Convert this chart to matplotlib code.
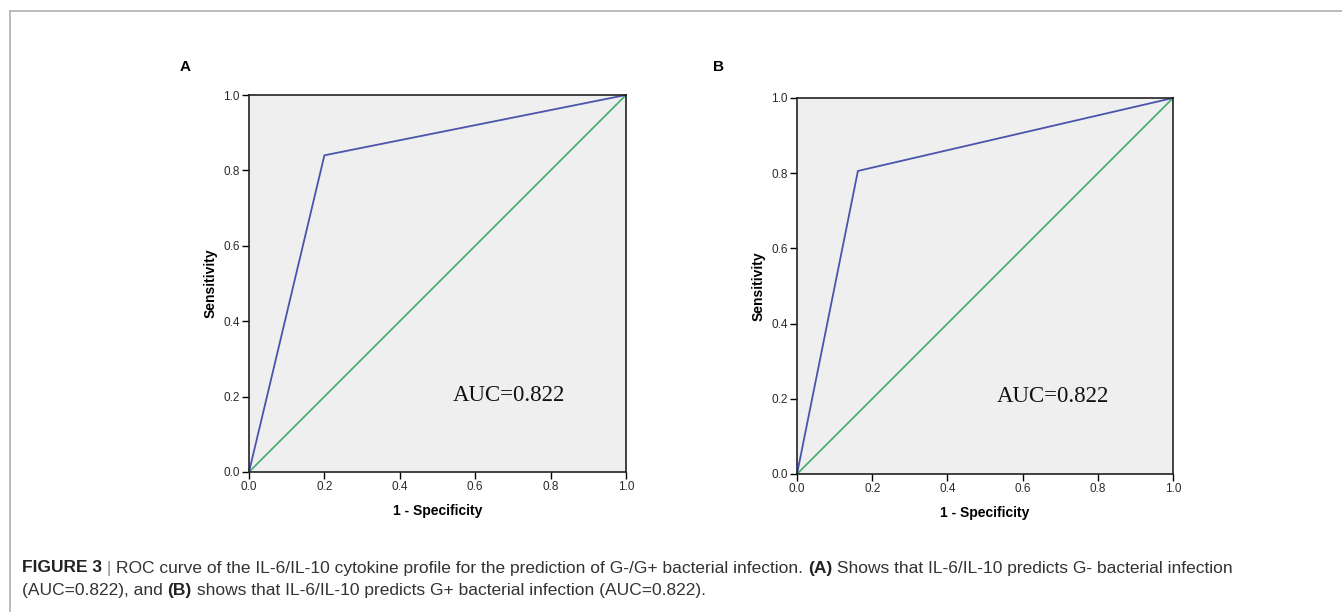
import matplotlib.pyplot as plt
from matplotlib.lines import Line2D

# ROC data
fpr_A = [0.0, 0.20, 1.0]
tpr_A = [0.0, 0.84, 1.0]
fpr_B = [0.0, 0.162, 1.0]
tpr_B = [0.0, 0.806, 1.0]
ref_line = [0.0, 1.0]
auc_A = 0.822
auc_B = 0.822
ticks = [0.0, 0.2, 0.4, 0.6, 0.8, 1.0]
tick_labels = ['0.0', '0.2', '0.4', '0.6', '0.8', '1.0']

W, H = 1342, 612
fig = plt.figure(figsize=(W / 100, H / 100), dpi=100)
fig.patch.set_facecolor('white')

blue = '#4b54ab'
green = '#3fae6c'


def px_axes(l, t, r, b):
    return fig.add_axes([l / W, 1 - b / H, (r - l) / W, (b - t) / H])


def roc_panel(ax, fpr, tpr, auc, tx, ty):
    ax.set_facecolor('#efefef')
    ax.plot(ref_line, ref_line, color=green, lw=1.2, clip_on=False)
    ax.plot(fpr, tpr, color=blue, lw=1.3, clip_on=False)
    ax.set_xlim(0, 1)
    ax.set_ylim(0, 1)
    ax.set_xticks(ticks)
    ax.set_yticks(ticks)
    ax.set_xticklabels(tick_labels, fontsize=8.5, family='Liberation Sans', color='#2a2a2a')
    ax.set_yticklabels(tick_labels, fontsize=8.5, family='Liberation Sans', color='#2a2a2a')
    ax.tick_params(direction='out', length=5, width=1, pad=1.5)
    for s in ax.spines.values():
        s.set_linewidth(1.2)
        s.set_color('#222222')
    ax.set_xlabel('1 - Specificity', fontsize=10, fontweight='bold',
                  family='Liberation Sans', labelpad=8)
    ax.set_ylabel('Sensitivity', fontsize=10, fontweight='bold',
                  family='Liberation Sans', labelpad=4)
    ax.text(tx, ty, 'AUC=%.3f' % auc, fontsize=16.5, family='Liberation Serif',
            ha='center', va='center', color='#111111')


axA = px_axes(249, 95, 626, 472)
roc_panel(axA, fpr_A, tpr_A, auc_A, 0.69, 0.204)
axB = px_axes(797, 98, 1173, 474)
roc_panel(axB, fpr_B, tpr_B, auc_B, 0.68, 0.207)

fig.text(185 / W, 1 - 67 / H, 'A', fontsize=11, fontweight='bold',
         family='Liberation Sans', ha='center', va='center')
fig.text(718 / W, 1 - 67 / H, 'B', fontsize=11, fontweight='bold',
         family='Liberation Sans', ha='center', va='center')

# gray frame (top and left edges)
fig.add_artist(Line2D([9.5 / W, 1], [1 - 10.5 / H, 1 - 10.5 / H], color='#b5b5b5', lw=1.3))
fig.add_artist(Line2D([9.5 / W, 9.5 / W], [1 - 10.5 / H, 0], color='#b5b5b5', lw=1.3))

# caption with mixed bold pieces
renderer = fig.canvas.get_renderer()
cap_lines = [
    [('FIGURE 3', 'bold', '#222222'), (' | ', 'normal', '#888888'),
     ('ROC curve of the IL-6/IL-10 cytokine profile for the prediction of G-/G+ bacterial infection. ', 'normal', '#333333'),
     ('(A)', 'bold', '#222222'),
     (' Shows that IL-6/IL-10 predicts G- bacterial infection', 'normal', '#333333')],
    [('(AUC=0.822), and ', 'normal', '#333333'), ('(B)', 'bold', '#222222'),
     (' shows that IL-6/IL-10 predicts G+ bacterial infection (AUC=0.822).', 'normal', '#333333')],
]
cap_y = [568, 591]
for pieces, y in zip(cap_lines, cap_y):
    x = 22
    for txt, wt, col in pieces:
        t = fig.text(x / W, 1 - y / H, txt, fontsize=12.5, fontweight=wt, color=col,
                     family='Liberation Sans', ha='left', va='center')
        bb = t.get_window_extent(renderer)
        x = bb.x1

fig.savefig('out.png', dpi=100, facecolor='white')
